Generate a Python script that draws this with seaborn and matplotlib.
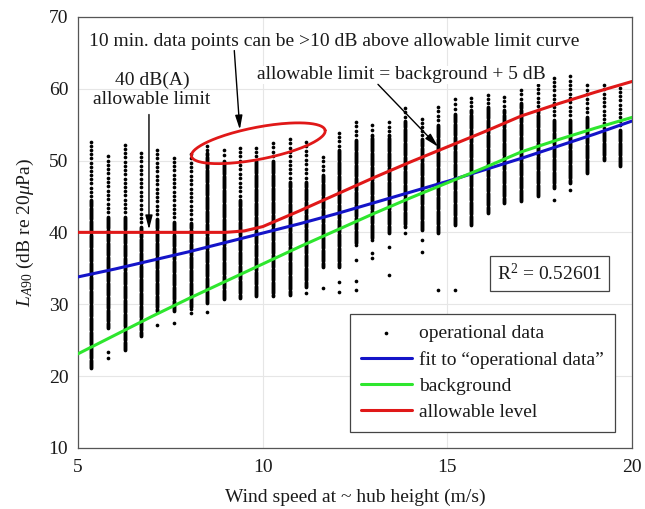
import numpy as np
import pandas as pd
import matplotlib
matplotlib.use("Agg")
import matplotlib.pyplot as plt
import seaborn as sns

sns.set_theme(style="white")
plt.rcParams["font.family"] = ["Liberation Serif", "DejaVu Serif"]
plt.rcParams["mathtext.fontset"] = "custom"
plt.rcParams["mathtext.rm"] = "Liberation Serif"
plt.rcParams["mathtext.it"] = "Liberation Serif:italic"

# ---- data ----
wind_speed = [5.36, 5.81, 6.26, 6.71, 7.15, 7.60, 8.05, 8.49, 8.94, 9.39, 9.83,
              10.28, 10.73, 11.18, 11.62, 12.07, 12.52, 12.96, 13.41, 13.86,
              14.31, 14.75, 15.20, 15.65, 16.09, 16.54, 16.99, 17.44, 17.88,
              18.33, 18.78, 19.23, 19.67]
col_top = [52.6, 50.6, 52.2, 51.1, 51.5, 50.4, 50.9, 52.0, 51.5, 51.8, 51.8,
           52.5, 53.0, 52.6, 50.5, 53.8, 55.4, 54.9, 55.3, 57.3,
           55.8, 57.5, 58.5, 58.7, 59.1, 58.9, 59.8, 60.5, 61.5,
           61.7, 60.5, 60.5, 60.1]
col_dense_hi = [44.5, 42.2, 42.2, 40.8, 41.9, 41.5, 41.3, 51.0, 50.0, 44.5, 50.0,
                50.0, 47.0, 47.0, 48.0, 51.5, 52.9, 53.5, 53.5, 55.5,
                53.0, 55.0, 56.5, 57.0, 57.5, 57.0, 58.0, 57.0, 55.7,
                55.7, 56.1, 54.0, 54.3]
col_dense_lo = [21.1, 26.7, 23.6, 25.6, 29.1, 29.0, 29.4, 30.1, 30.7, 30.9, 31.1,
                31.2, 31.3, 32.4, 35.2, 35.2, 38.3, 39.0, 39.9, 40.8,
                40.3, 39.9, 41.0, 41.0, 42.7, 44.1, 44.3, 45.0, 46.2,
                46.9, 48.2, 50.1, 49.2]
col_singles = [[], [23.4, 22.5], [], [], [27.1], [27.4], [28.8], [28.9], [], [], [],
               [], [], [31.5], [32.3], [33.1, 31.7], [36.2, 33.2, 32.0], [37.1, 36.4],
               [38.0, 34.1], [39.9], [39.0, 37.3], [32.0], [32.0], [], [], [], [],
               [], [44.5], [45.9], [], [], []]

line_x = [5, 6, 7, 8, 9, 10, 11, 12, 13, 14, 15, 16, 17, 18, 19, 20]
fit_y = [33.8, 34.9, 36.1, 37.3, 38.6, 39.9, 41.2, 42.6, 44.1, 45.6, 47.1,
         48.7, 50.3, 52.0, 53.7, 55.5]
background_y = [23.1, 25.7, 28.3, 30.8, 33.2, 35.6, 38.0, 40.3, 42.6, 44.8,
                46.9, 49.0, 51.2, 52.9, 54.5, 56.0]
allow_x = [5, 6, 7, 8, 9, 9.5, 10, 11, 12, 13, 14, 15, 16, 17, 18, 19, 20]
allow_y = [40.0, 40.0, 40.0, 40.0, 40.0, 40.2, 40.8, 43.0, 45.3, 47.6, 49.8,
           51.9, 54.0, 56.2, 57.9, 59.5, 61.0]

# ---- build the scatter table from the column readings ----
rows = []
for ws, top, dh, dl, singles in zip(wind_speed, col_top, col_dense_hi,
                                    col_dense_lo, col_singles):
    for v in np.linspace(dl, dh, max(2, int(round((dh - dl) / 0.15)) + 1)):
        rows.append((ws, v))
    n_sparse = int(round((top - dh) / 0.6))
    if n_sparse > 0:
        for v in np.linspace(dh, top, n_sparse + 1)[1:]:
            rows.append((ws, v))
    for v in singles:
        rows.append((ws, v))
df = pd.DataFrame(rows, columns=["wind", "level"])
lines_df = pd.DataFrame({"x": line_x, "fit": fit_y, "bg": background_y})
allow_df = pd.DataFrame({"x": allow_x, "allow": allow_y})

fig = plt.figure(figsize=(6.45, 5.09), dpi=100)
ax = fig.add_axes([0.121, 0.12, 0.859, 0.847])

blue = "#1414c8"
green = "#2ee62e"
red = "#e01818"
ink = "#1a1a1a"
FS = 14

sns.scatterplot(data=df, x="wind", y="level", color="black", s=7,
                linewidth=0, ax=ax, label="operational data", zorder=2)
sns.lineplot(data=lines_df, x="x", y="fit", color=blue, lw=2.2, ax=ax,
             label="fit to \u201coperational data\u201d", zorder=3)
sns.lineplot(data=lines_df, x="x", y="bg", color=green, lw=2.2, ax=ax,
             label="background", zorder=3)
sns.lineplot(data=allow_df, x="x", y="allow", color=red, lw=2.2, ax=ax,
             label="allowable level", zorder=4)

ax.set_xlim(5, 20)
ax.set_ylim(10, 70)
ax.set_xticks([5, 10, 15, 20])
ax.set_yticks([10, 20, 30, 40, 50, 60, 70])
ax.grid(True, color="#e6e6e6", lw=0.8)
ax.set_axisbelow(True)
for sp in ax.spines.values():
    sp.set_color("#555555")
    sp.set_linewidth(0.9)
ax.tick_params(direction="in", length=4, color="#555555", labelsize=FS,
               labelcolor=ink)
ax.tick_params(axis="x", pad=8)
ax.tick_params(axis="y", pad=7)
ax.set_xlabel("Wind speed at ~ hub height (m/s)", fontsize=FS, color=ink,
              labelpad=9)
ax.set_ylabel(r"$L_{A90}$ (dB re 20$\mu$Pa)", fontsize=FS, color=ink,
              labelpad=9)

leg = ax.legend(loc="lower right", bbox_to_anchor=(0.969, 0.037),
                borderaxespad=0, fontsize=FS, frameon=True, fancybox=False,
                edgecolor="#444444", framealpha=1, handlelength=2.6,
                handletextpad=0.4, labelspacing=0.45, borderpad=0.55,
                markerscale=1.0)
leg.get_frame().set_linewidth(0.9)
for t in leg.get_texts():
    t.set_color(ink)

ax.text(17.77, 34.3, r"R$^{2}$ = 0.52601", fontsize=FS, color=ink,
        ha="center", va="center",
        bbox=dict(boxstyle="square,pad=0.35", fc="white", ec="#444444", lw=0.9),
        zorder=6)

# annotations
ax.text(5.3, 66.6, "10 min. data points can be >10 dB above allowable limit curve",
        fontsize=FS, color=ink, ha="left", va="center", zorder=6)
ax.text(7.0, 59.8, "40 dB(A)\nallowable limit", fontsize=FS, color=ink,
        ha="center", va="center", multialignment="center", linespacing=1.15,
        zorder=6)
ax.text(13.75, 61.9, "allowable limit = background + 5 dB", fontsize=FS,
        color=ink, ha="center", va="center", zorder=6,
        bbox=dict(boxstyle="square,pad=0.05", fc="white", ec="none"))

arrow_kw = dict(arrowstyle="-|>,head_length=0.7,head_width=0.18", color="black",
                lw=1.0, shrinkA=0, shrinkB=0)
ax.annotate("", xy=(9.38, 54.3), xytext=(9.23, 65.3), arrowprops=arrow_kw,
            zorder=6)
ax.annotate("", xy=(6.92, 40.4), xytext=(6.92, 56.4), arrowprops=arrow_kw,
            zorder=6)
ax.annotate("", xy=(14.75, 51.9), xytext=(13.12, 60.6), arrowprops=arrow_kw,
            zorder=6)

# red ellipse (drawn in pixel geometry, mapped to data units)
px_per_x = 36.9
px_per_y = 7.18
cx, cy = 9.88, 52.4
a_px, b_px, ang = 68.0, 16.0, np.deg2rad(11.0)
t = np.linspace(0, 2 * np.pi, 200)
ex_px = a_px * np.cos(t) * np.cos(ang) - b_px * np.sin(t) * np.sin(ang)
ey_px = a_px * np.cos(t) * np.sin(ang) + b_px * np.sin(t) * np.cos(ang)
ax.plot(cx + ex_px / px_per_x, cy + ey_px / px_per_y, color=red, lw=2.0,
        zorder=5)

fig.savefig("out.png", dpi=100)
